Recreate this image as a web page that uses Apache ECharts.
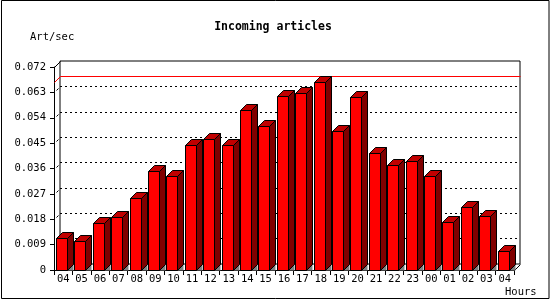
<!DOCTYPE html>
<html>
<head>
<meta charset="utf-8">
<script src="https://cdn.jsdelivr.net/npm/echarts@6/dist/echarts.min.js"></script>
<style>html,body{margin:0;padding:0;background:#fff}#c{width:550px;height:300px}</style>
</head>
<body>
<div id="c"></div>
<script>
const titleText = 'Incoming articles';
const yName = 'Art/sec';
const xName = 'Hours';
const hours = ['04','05','06','07','08','09','10','11','12','13','14','15','16','17','18','19','20','21','22','23','00','01','02','03','04'];
const articles = [0.0112,0.0103,0.0167,0.0188,0.0254,0.0350,0.0333,0.0442,0.0464,0.0442,0.0568,0.0511,0.0616,0.0628,0.0667,0.0493,0.0613,0.0414,0.0372,0.0387,0.0333,0.0170,0.0222,0.0190,0.0066];
const yMin = 0, yMax = 0.072, yStep = 0.009;

const FONT = '"DejaVu Sans Mono", "Liberation Mono", monospace';
const DX = 6, DY = 6;
const px = v => Math.round(v) + 0.5;

const chart = echarts.init(document.getElementById('c'), null, {renderer: 'canvas'});

function renderBar(params, api) {
  const i = api.value(0), v = api.value(1);
  const base = api.coord([i, 0]);
  const top = api.coord([i, v]);
  const bw = api.size([1, 0])[0];
  const xl = Math.floor(base[0] - bw / 2 + 2.5) + 0.5;
  const xr = xl + Math.round(bw * 0.6);
  const yb = px(base[1]);
  const yt = px(top[1]);
  const st = {stroke: '#000', lineWidth: 1};
  return {
    type: 'group',
    children: [
      {type: 'polygon', shape: {points: [[xr, yb], [xr + DX, yb - DY], [xr + DX, yb]]}, style: {fill: '#808080'}},
      {type: 'polygon', shape: {points: [[xr, yt], [xr + DX, yt - DY], [xr + DX, yb - DY], [xr, yb]]}, style: Object.assign({fill: '#800000'}, st)},
      {type: 'polygon', shape: {points: [[xl, yt], [xl + DX, yt - DY], [xr + DX, yt - DY], [xr, yt]]}, style: Object.assign({fill: '#c00000'}, st)},
      {type: 'rect', shape: {x: xl, y: yt, width: xr - xl, height: yb - yt}, style: Object.assign({fill: '#ff0000'}, st)}
    ]
  };
}

function renderDeco(params, api) {
  const cs = params.coordSys;
  const x0 = px(cs.x), x1 = px(cs.x + cs.width);
  const y0 = px(cs.y), y1 = px(cs.y + cs.height);
  const ym = px(api.coord([0, api.value(1)])[1]);
  const children = [
    {type: 'polyline', shape: {points: [[x0, y0], [x0 + DX, y0 - DY]]}, style: {stroke: '#000', lineWidth: 1, fill: null}},
    {type: 'polyline', shape: {points: [[x1, y1], [x1 + DX, y1 - DY]]}, style: {stroke: '#000', lineWidth: 1, fill: null}},
    {type: 'polyline', shape: {points: [[x0, ym], [x0 + DX, ym - DY], [x1 + DX, ym - DY]]}, style: {stroke: '#ff0000', lineWidth: 1, fill: null}}
  ];
  for (let t = yMin + yStep; t < yMax - yStep / 2; t += yStep) {
    const yy = px(api.coord([0, t])[1]);
    children.push({type: 'line', shape: {x1: x0 + 2, y1: yy - 2, x2: x0 + 4, y2: yy - 4}, style: {stroke: '#000', lineWidth: 1}});
  }
  return {type: 'group', children};
}

const option = {
  backgroundColor: '#fff',
  animation: false,
  grid: [
    {left: 54, top: 67, right: 36, bottom: 30, show: false},
    {left: 60, top: 61, right: 30, bottom: 36, show: true, borderColor: '#000', borderWidth: 1, backgroundColor: 'transparent'}
  ],
  xAxis: [
    {
      type: 'category', gridIndex: 0, data: hours, boundaryGap: true,
      axisLine: {lineStyle: {color: '#000', width: 1}},
      axisTick: {show: true, length: 5, lineStyle: {color: '#000'}},
      axisLabel: {color: '#000', fontFamily: FONT, fontSize: 10.5, margin: 4, interval: 0},
      splitLine: {show: false}
    },
    {
      type: 'category', gridIndex: 1, data: hours, boundaryGap: true,
      axisLine: {show: false}, axisTick: {show: false}, axisLabel: {show: false}, splitLine: {show: false}
    }
  ],
  yAxis: [
    {
      type: 'value', gridIndex: 0, min: yMin, max: yMax, interval: yStep,
      axisLine: {show: true, lineStyle: {color: '#000', width: 1}},
      axisTick: {show: true, length: 4, lineStyle: {color: '#000'}},
      axisLabel: {color: '#000', fontFamily: FONT, fontSize: 10.5, margin: 8,
        formatter: v => (Math.abs(v) < 1e-12 ? '0' : v.toFixed(3))},
      splitLine: {show: false}
    },
    {
      type: 'value', gridIndex: 1, min: yMin, max: yMax, interval: yStep,
      axisLine: {show: false}, axisTick: {show: false}, axisLabel: {show: false},
      splitLine: {show: true, showMinLine: false, showMaxLine: false, lineStyle: {color: '#000', width: 1, type: [2, 3]}}
    }
  ],
  graphic: [
    {type: 'rect', shape: {x: 1.5, y: 0.5, width: 547.5, height: 298}, style: {fill: null, stroke: '#000', lineWidth: 1}, z: 100},
    {type: 'text', x: 273, y: 27, style: {text: titleText, align: 'center', verticalAlign: 'middle', font: 'bold 11.5px ' + FONT, fill: '#000'}},
    {type: 'text', x: 30, y: 37, style: {text: yName, align: 'left', verticalAlign: 'middle', font: '10.5px ' + FONT, fill: '#000'}},
    {type: 'text', x: 505, y: 292, style: {text: xName, align: 'left', verticalAlign: 'middle', font: '10.5px ' + FONT, fill: '#000'}}
  ],
  series: [
    {
      type: 'custom', xAxisIndex: 0, yAxisIndex: 0, clip: false, z: 3,
      data: [[0, Math.max(...articles)]],
      encode: {x: 0, y: 1},
      renderItem: renderDeco
    },
    {
      type: 'custom', xAxisIndex: 0, yAxisIndex: 0, clip: false, z: 5,
      data: articles.map((v, i) => [i, v]),
      encode: {x: 0, y: 1},
      renderItem: renderBar
    }
  ]
};
chart.setOption(option);
</script>
</body>
</html>
